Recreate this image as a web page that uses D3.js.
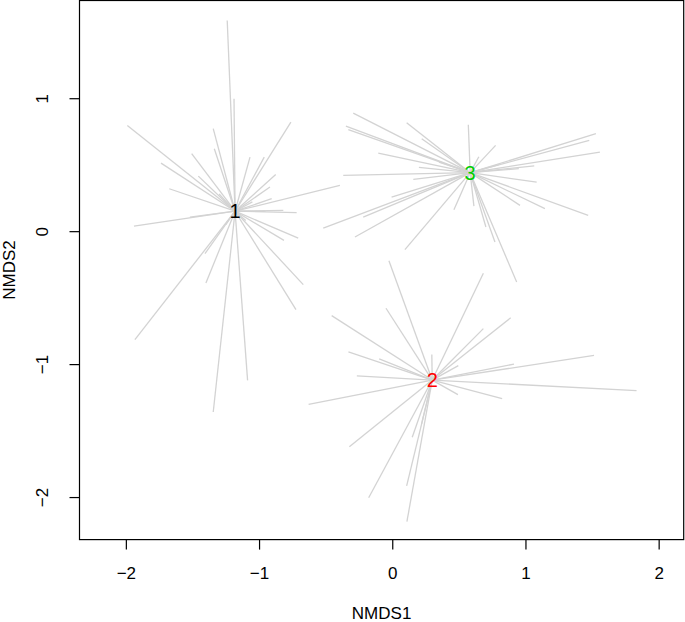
<!DOCTYPE html>
<html>
<head>
<meta charset="utf-8">
<script src="https://cdn.jsdelivr.net/npm/d3@7"></script>
<style>
  body { margin: 0; background: #fff; }
  svg { display: block; font-family: "Liberation Sans", Arial, sans-serif; }
</style>
</head>
<body>
<svg width="685" height="622"></svg>
<script>
// group labels, colours and centroids (NMDS1, NMDS2)
const groups = ['1', '2', '3'];
const groupColors = ['#000000', '#ff0000', '#00cd00'];
const centroidX = [-1.18, 0.30, 0.585];
const centroidY = [0.15, -1.12, 0.44];

// site scores per group
const sitesG1 = [
  [-1.239, 1.585], [-1.188, 0.996], [-1.989, 0.795], [-0.761, 0.820], [-1.344, 0.771],
  [-1.736, 0.512], [-1.506, 0.583], [-1.336, 0.620], [-1.068, 0.557], [-0.961, 0.557],
  [-0.875, 0.427], [-1.456, 0.414], [-1.674, 0.319], [-0.918, 0.332], [-0.393, 0.344],
  [-0.905, 0.244], [-1.939, 0.038], [-1.519, 0.106], [-0.718, 0.139], [-0.818, 0.156],
  [-0.706, -0.052], [-0.813, -0.069], [-0.668, -0.402], [-0.723, -0.590], [-1.399, -0.390],
  [-1.406, -0.169], [-1.932, -0.816], [-1.086, -1.122], [-1.344, -1.360], [-1.05, 0.22],
  [-1.30, 0.28], [-1.10, 0.08], [-1.25, 0.05], [-0.95, 0.15]
];
const sitesG2 = [
  [-0.025, -0.222], [0.684, -0.317], [-0.455, -0.635], [-0.047, -0.580], [0.889, -0.652],
  [0.684, -0.733], [-0.329, -0.908], [-0.098, -0.960], [0.297, -0.928], [0.496, -1.011],
  [-0.266, -1.089], [-0.628, -1.303], [-0.322, -1.622], [-0.177, -2.005], [0.108, -1.916],
  [0.110, -2.185], [0.493, -1.230], [0.825, -1.259], [1.834, -1.200], [1.515, -0.935],
  [0.914, -1.000], [0.22, -1.45], [0.15, -1.55]
];
const sitesG3 = [
  [-0.293, 0.888], [-0.348, 0.790], [-0.330, 0.763], [0.108, 0.816], [0.571, 0.800],
  [0.221, 0.695], [-0.105, 0.587], [0.776, 0.645], [1.529, 0.733], [1.479, 0.683],
  [1.559, 0.595], [-0.368, 0.419], [0.158, 0.389], [1.084, 0.369], [1.146, 0.169],
  [1.471, 0.119], [0.959, 0.194], [-0.518, 0.023], [-0.280, -0.044], [-0.218, 0.106],
  [-0.005, 0.256], [0.095, -0.139], [0.463, 0.161], [0.613, 0.188], [0.771, -0.082],
  [0.703, 0.031], [0.934, -0.383], [1.066, 0.491], [0.95, 0.47], [0.20, 0.48],
  [0.35, 0.52], [0.80, 0.50], [0.65, 0.56]
];
const xTicks = [-2, -1, 0, 1, 2];
const yTicks = [-2, -1, 0, 1];

const svg = d3.select('svg');
const plotLeft = 79.5, plotRight = 683.7, plotTop = 0.5, plotBottom = 539.6;

const x = d3.scaleLinear().domain([-2.348, 2.188]).range([plotLeft, plotRight]);
const y = d3.scaleLinear().domain([-2.32, 1.735]).range([plotBottom, plotTop]);

// spider segments
const spokes = [];
[sitesG1, sitesG2, sitesG3].forEach((sites, i) => {
  sites.forEach(s => spokes.push({g: i, x: s[0], y: s[1]}));
});

svg.append('g')
  .selectAll('line')
  .data(spokes)
  .enter().append('line')
    .attr('x1', d => x(centroidX[d.g]))
    .attr('y1', d => y(centroidY[d.g]))
    .attr('x2', d => x(d.x))
    .attr('y2', d => y(d.y))
    .attr('stroke', '#d3d3d3')
    .attr('stroke-width', 1.3);

// centroid labels
svg.append('g')
  .selectAll('text')
  .data(groups)
  .enter().append('text')
    .attr('x', (d, i) => x(centroidX[i]))
    .attr('y', (d, i) => y(centroidY[i]))
    .attr('dy', '0.36em')
    .attr('text-anchor', 'middle')
    .attr('font-size', 20)
    .attr('fill', (d, i) => groupColors[i])
    .text(d => d);

// box
svg.append('rect')
  .attr('x', plotLeft).attr('y', plotTop)
  .attr('width', plotRight - plotLeft).attr('height', plotBottom - plotTop)
  .attr('fill', 'none').attr('stroke', '#000').attr('stroke-width', 1.2);

// axes
const fmt = d3.format('d');
const xAxis = svg.append('g')
  .attr('transform', `translate(0,${plotBottom})`)
  .call(d3.axisBottom(x).tickValues(xTicks).tickFormat(fmt).tickSize(10).tickSizeOuter(0).tickPadding(17));
xAxis.select('.domain').remove();

const yAxis = svg.append('g')
  .attr('transform', `translate(${plotLeft},0)`)
  .call(d3.axisLeft(y).tickValues(yTicks).tickFormat(fmt).tickSize(10).tickSizeOuter(0));
yAxis.select('.domain').remove();
yAxis.selectAll('text')
  .attr('x', null).attr('dy', null)
  .attr('text-anchor', 'middle')
  .attr('transform', 'translate(-32,0) rotate(-90)');

svg.selectAll('.tick line').attr('stroke-width', 1.2);
svg.selectAll('.tick text').attr('font-size', 17).attr('font-family', '"Liberation Sans", Arial, sans-serif').attr('fill', '#000');

// axis titles
svg.append('text')
  .attr('x', (plotLeft + plotRight) / 2)
  .attr('y', 619)
  .attr('text-anchor', 'middle')
  .attr('font-size', 17)
  .text('NMDS1');

svg.append('text')
  .attr('transform', `translate(15,${(plotTop + plotBottom) / 2}) rotate(-90)`)
  .attr('text-anchor', 'middle')
  .attr('font-size', 17)
  .text('NMDS2');
</script>
</body>
</html>
